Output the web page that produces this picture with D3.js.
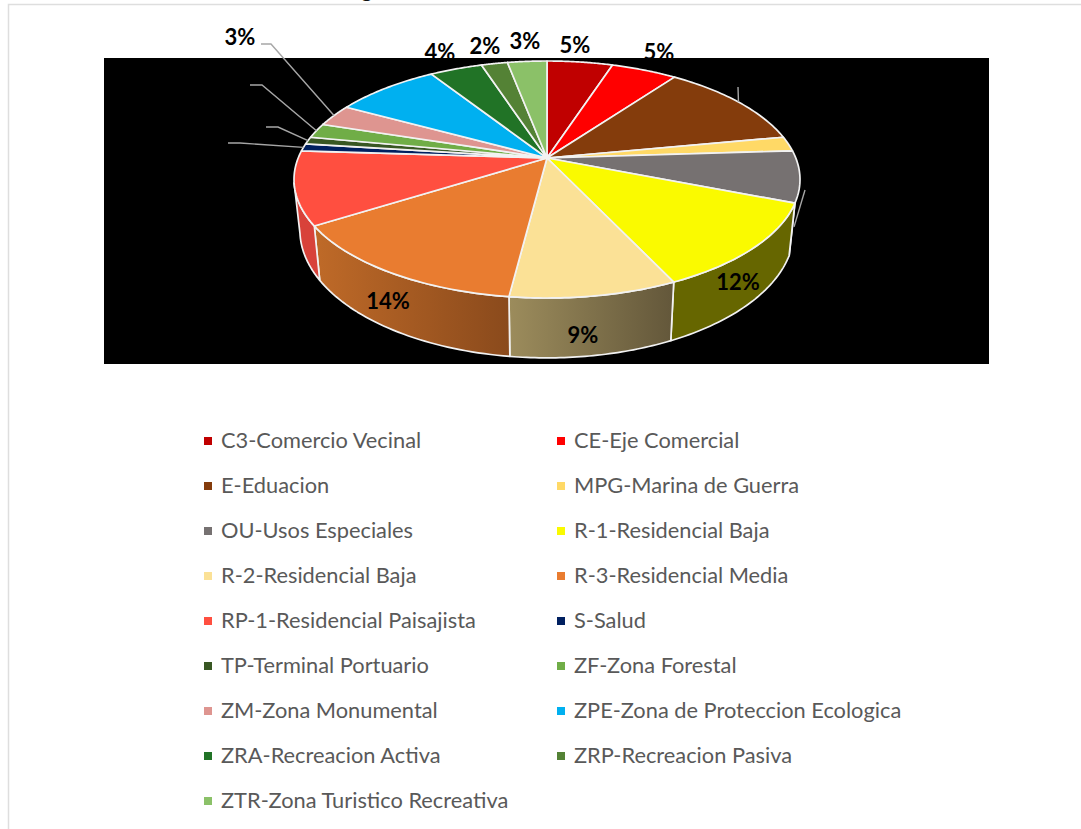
<!DOCTYPE html>
<html>
<head>
<meta charset="utf-8">
<title>Zonificacion</title>
<script src="https://cdn.jsdelivr.net/npm/d3@7"></script>
<style>
html, body { margin: 0; padding: 0; background: #fff; overflow: hidden; }
svg { display: block; }
</style>
</head>
<body>
<script>
// datos
var categories = ["C3-Comercio Vecinal", "CE-Eje Comercial", "E-Eduacion", "MPG-Marina de Guerra",
    "OU-Usos Especiales", "R-1-Residencial Baja", "R-2-Residencial Baja", "R-3-Residencial Media",
    "RP-1-Residencial Paisajista", "S-Salud", "TP-Terminal Portuario", "ZF-Zona Forestal",
    "ZM-Zona Monumental", "ZPE-Zona de Proteccion Ecologica", "ZRA-Recreacion Activa",
    "ZRP-Recreacion Pasiva", "ZTR-Zona Turistico Recreativa"];
var values = [5, 5, 12, 2, 7, 12, 9, 14, 10, 1, 1, 2, 3, 8, 4, 2, 3];
var colors = ["#C00000", "#FF0000", "#843C0C", "#FFD966", "#767171", "#FAFA00", "#FBE196", "#E97C30",
    "#FF4F40", "#002060", "#385723", "#70AD47", "#DE9590", "#00B0F0", "#217326", "#548235", "#8BC168"];

var width = 1081, height = 829;
var svg = d3.select("body").append("svg").attr("width", width).attr("height", height);
var defs = svg.append("defs");

// marco y fondo negro
svg.append("path").attr("d", "M8.5,829V4.5H1081").attr("fill", "none").attr("stroke", "#dedede").attr("stroke-width", 1.5);
svg.append("text").attr("x", 361).attr("y", -3).attr("font-family", "Lato").attr("font-weight", "bold")
    .attr("font-size", 22).attr("fill", "#111").text("g");
svg.append("rect").attr("x", 104).attr("y", 58).attr("width", 885).attr("height", 306).attr("fill", "#000");

// circulo en perspectiva: anillo superior y anillo inferior de la torta
var k = 0.1814;
var topRing = {cx: 547, cy: 158, a: 248.8, b: 114.6};
var lowRing = {cx: 547, cy: 207, a: 243, b: 123.5};
function project(ring, angle) {
    var u = Math.sin(angle), v = -Math.cos(angle), w = 1 - k * v;
    return [ring.cx + ring.a * u / w, ring.cy + ring.b * v / w];
}
function arcPoints(ring, a0, a1) {
    return d3.range(0, 41).map(function(i) {
        return project(ring, a0 + (a1 - a0) * i / 40);
    });
}
var line = d3.line();
var rad = d3.scaleLinear().domain([0, 360]).range([0, 2 * Math.PI]);

var pie = d3.pie().sort(null).value(function(d) { return d; });
var slices = pie(values);

// pared lateral, solo la parte visible
var wallFrom = rad(111.4), wallTo = rad(258);
var wallTones = {5: ["#666600", "#666600"], 6: ["#9C8C5C", "#63573A"], 7: ["#BF6A28", "#8A4A1C"], 8: ["#D8423A", "#D8423A"]};
Object.keys(wallTones).forEach(function(i) {
    var g = defs.append("linearGradient").attr("id", "wall" + i)
        .attr("x1", "0").attr("x2", "1").attr("y1", "0").attr("y2", "0");
    g.append("stop").attr("offset", "0").attr("stop-color", wallTones[i][0]);
    g.append("stop").attr("offset", "1").attr("stop-color", wallTones[i][1]);
});
svg.append("g").selectAll("path")
    .data(slices.filter(function(d) { return d.endAngle > wallFrom && d.startAngle < wallTo; }))
    .enter().append("path")
    .attr("d", function(d) {
        var a0 = Math.max(d.startAngle, wallFrom), a1 = Math.min(d.endAngle, wallTo);
        return line(arcPoints(topRing, a0, a1).concat(arcPoints(lowRing, a1, a0))) + "Z";
    })
    .attr("fill", function(d) { return "url(#wall" + d.index + ")"; })
    .attr("stroke", "#f2f2f2").attr("stroke-width", 1.7).attr("stroke-linejoin", "round");

// cara superior
svg.append("g").selectAll("path")
    .data(slices)
    .enter().append("path")
    .attr("d", function(d) {
        return line([[topRing.cx, topRing.cy]].concat(arcPoints(topRing, d.startAngle, d.endAngle))) + "Z";
    })
    .attr("fill", function(d) { return colors[d.index]; })
    .attr("stroke", "#f2f2f2").attr("stroke-width", 1.7).attr("stroke-linejoin", "round");

// lineas guia: codo fijo y final en el borde de la porcion
function midAngle(i) { return (slices[i].startAngle + slices[i].endAngle) / 2; }
var leaders = [
    {i: 12, ring: topRing, pts: [[261, 44], [271, 44]]},
    {i: 11, ring: topRing, pts: [[250, 85], [262, 85]]},
    {i: 10, ring: topRing, pts: [[266, 127], [278, 127]]},
    {i: 9, ring: topRing, pts: [[228, 143], [240, 143]]},
    {i: 2, ring: topRing, pts: [[738, 87]]},
    {i: 4, ring: lowRing, pts: [[805, 190]]}
];
svg.append("g").selectAll("path")
    .data(leaders)
    .enter().append("path")
    .attr("d", function(d) { return line(d.pts.concat([project(d.ring, midAngle(d.i))])); })
    .attr("fill", "none").attr("stroke", "#a6a6a6").attr("stroke-width", 1.4);

// etiquetas de porcentaje (las negras sobre negro tampoco se ven en el original)
var labelSpots = [[575, 45], [659, 52], [737, 72], [812, 118], [822, 178], [738, 282], [583, 335], [388, 301],
    [203, 170], [205, 143], [248, 127], [232, 85], [240, 37], [381, 67], [440, 52], [485, 46], [525, 41]];
svg.append("g").selectAll("text")
    .data(values)
    .enter().append("text")
    .attr("x", function(d, i) { return labelSpots[i][0]; })
    .attr("y", function(d, i) { return labelSpots[i][1]; })
    .attr("dy", "0.35em")
    .attr("text-anchor", "middle")
    .attr("font-family", "Lato").attr("font-weight", "bold").attr("font-size", 22).attr("fill", "#000")
    .text(function(d) { return d + "%"; });

// leyenda en dos columnas
var colX = d3.scaleOrdinal().domain([0, 1]).range([204, 557]);
var rowY = d3.scaleLinear().domain([0, 8]).range([441, 801]);
var legend = svg.append("g").selectAll("g")
    .data(categories)
    .enter().append("g")
    .attr("transform", function(d, i) { return "translate(" + colX(i % 2) + "," + rowY(Math.floor(i / 2)) + ")"; });
legend.append("rect").attr("x", 0).attr("y", -4).attr("width", 8).attr("height", 8)
    .attr("fill", function(d, i) { return colors[i]; });
legend.append("text").attr("x", 17).attr("dy", "0.3em")
    .attr("font-family", "Lato").attr("font-size", 21.8).attr("fill", "#595959")
    .text(function(d) { return d; });
</script>
</body>
</html>
